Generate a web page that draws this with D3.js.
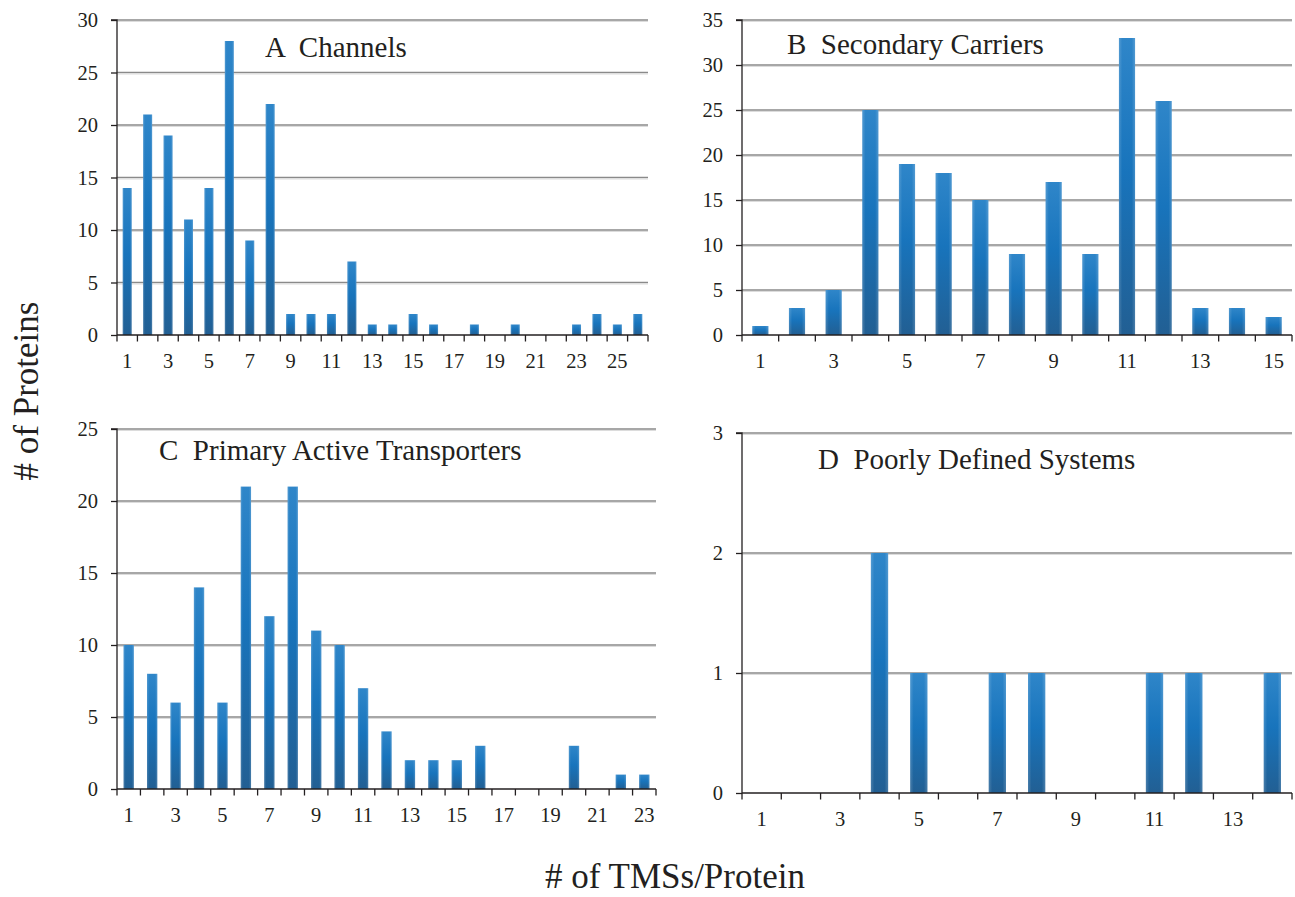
<!DOCTYPE html>
<html>
<head>
<meta charset="utf-8">
<script src="https://cdn.jsdelivr.net/npm/d3@7"></script>
<style>
  html, body { margin: 0; padding: 0; background: #fff; }
  svg { display: block; }
  text { font-family: "Liberation Serif", "Times New Roman", serif; fill: #231f20; white-space: pre; }
</style>
</head>
<body>
<svg id="chart" width="1295" height="897"></svg>
<script>
// ---- data ----
const channelsTms = d3.range(1, 27);
const channelsCounts = [14, 21, 19, 11, 14, 28, 9, 22, 2, 2, 2, 7, 1, 1, 2, 1, 0, 1, 0, 1, 0, 0, 1, 2, 1, 2];

const carriersTms = d3.range(1, 16);
const carriersCounts = [1, 3, 5, 25, 19, 18, 15, 9, 17, 9, 33, 26, 3, 3, 2];

const primaryTms = d3.range(1, 24);
const primaryCounts = [10, 8, 6, 14, 6, 21, 12, 21, 11, 10, 7, 4, 2, 2, 2, 3, 0, 0, 0, 3, 0, 1, 1];

const poorlyTms = d3.range(1, 15);
const poorlyCounts = [0, 0, 0, 2, 1, 0, 1, 1, 0, 0, 1, 1, 0, 1];

const panelTitles = ["A  Channels", "B  Secondary Carriers", "C  Primary Active Transporters", "D  Poorly Defined Systems"];
const yMaxes = [30, 35, 25, 3];
const yTickSteps = [5, 5, 5, 1];
const yAxisTitle = "# of Proteins";
const xAxisTitle = "# of TMSs/Protein";

// ---- layout ----
const svg = d3.select("#chart");
const defs = svg.append("defs");
const grad = defs.append("linearGradient").attr("id", "barGrad")
  .attr("x1", 0).attr("y1", 0).attr("x2", 0).attr("y2", 1);
grad.append("stop").attr("offset", "0%").attr("stop-color", "#2f86c9");
grad.append("stop").attr("offset", "45%").attr("stop-color", "#1874bc");
grad.append("stop").attr("offset", "100%").attr("stop-color", "#225f93");

const gradH = defs.append("linearGradient").attr("id", "barEdge")
  .attr("x1", 0).attr("y1", 0).attr("x2", 1).attr("y2", 0);
gradH.append("stop").attr("offset", "0%").attr("stop-color", "#ffffff").attr("stop-opacity", 0.18);
gradH.append("stop").attr("offset", "20%").attr("stop-color", "#ffffff").attr("stop-opacity", 0);
gradH.append("stop").attr("offset", "80%").attr("stop-color", "#ffffff").attr("stop-opacity", 0);
gradH.append("stop").attr("offset", "100%").attr("stop-color", "#ffffff").attr("stop-opacity", 0.18);

const panels = [
  { tms: channelsTms, counts: channelsCounts, title: panelTitles[0], yMax: yMaxes[0], step: yTickSteps[0],
    left: 117, right: 648, top: 20, bottom: 335, titleX: 265, titleY: 56.5 },
  { tms: carriersTms, counts: carriersCounts, title: panelTitles[1], yMax: yMaxes[1], step: yTickSteps[1],
    left: 742, right: 1292, top: 20, bottom: 335, titleX: 787, titleY: 53.5 },
  { tms: primaryTms, counts: primaryCounts, title: panelTitles[2], yMax: yMaxes[2], step: yTickSteps[2],
    left: 117, right: 656, top: 429, bottom: 789, titleX: 159, titleY: 460 },
  { tms: poorlyTms, counts: poorlyCounts, title: panelTitles[3], yMax: yMaxes[3], step: yTickSteps[3],
    left: 742, right: 1292, top: 433, bottom: 793, titleX: 818, titleY: 469 }
];

panels.forEach(p => {
  const g = svg.append("g");
  const x = d3.scaleBand().domain(p.tms).range([p.left, p.right]).paddingInner(0.56).paddingOuter(0.28);
  const xb = d3.scaleBand().domain(p.tms).range([p.left, p.right]);
  const y = d3.scaleLinear().domain([0, p.yMax]).range([p.bottom, p.top]);
  const yTicks = d3.range(0, p.yMax + 0.001, p.step);

  // gridlines
  g.append("g").selectAll("line").data(yTicks.filter(t => t > 0)).join("line")
    .attr("x1", p.left).attr("x2", p.right)
    .attr("y1", d => y(d)).attr("y2", d => y(d))
    .attr("stroke", "#8a8a8a").attr("stroke-width", 1.4);
  g.append("g").selectAll("line").data(yTicks.filter(t => t > 0)).join("line")
    .attr("x1", p.left).attr("x2", p.right)
    .attr("y1", d => y(d) + 1.5).attr("y2", d => y(d) + 1.5)
    .attr("stroke", "#dcdcdc").attr("stroke-width", 1);

  // bars
  const rows = p.tms.map((t, i) => ({ t, v: p.counts[i] })).filter(d => d.v > 0);
  const bars = g.append("g");
  bars.selectAll("rect.b").data(rows).join("rect")
    .attr("class", "b")
    .attr("x", d => x(d.t)).attr("width", x.bandwidth())
    .attr("y", d => y(d.v)).attr("height", d => y(0) - y(d.v))
    .attr("fill", "url(#barGrad)");
  bars.selectAll("rect.e").data(rows).join("rect")
    .attr("class", "e")
    .attr("x", d => x(d.t)).attr("width", x.bandwidth())
    .attr("y", d => y(d.v)).attr("height", d => y(0) - y(d.v))
    .attr("fill", "url(#barEdge)");

  // y axis
  const yAxis = d3.axisLeft(y).tickValues(yTicks).tickSize(6).tickPadding(13).tickFormat(d3.format("d"));
  const ya = g.append("g").attr("transform", `translate(${p.left},0)`).call(yAxis);
  ya.select(".domain").attr("stroke", "#231f20").attr("stroke-width", 1.3).attr("d", `M-6,${p.top}H0V${p.bottom}`);
  ya.selectAll(".tick line").attr("stroke", "#231f20").attr("stroke-width", 1.3);
  ya.selectAll(".tick text").attr("font-size", 20.5).attr("font-family", "Liberation Serif").attr("fill", "#231f20").attr("dy", "0.34em");

  // x axis: ticks at band boundaries, labels on odd categories
  const xa = g.append("g").attr("transform", `translate(0,${p.bottom})`);
  xa.append("line").attr("x1", p.left).attr("x2", p.right).attr("stroke", "#231f20").attr("stroke-width", 1.3);
  const bounds = p.tms.map(t => xb(t)).concat([p.right]);
  xa.selectAll("line.t").data(bounds).join("line").attr("class", "t")
    .attr("x1", d => d).attr("x2", d => d).attr("y1", 0).attr("y2", 6.5)
    .attr("stroke", "#231f20").attr("stroke-width", 1.3);
  xa.selectAll("text").data(p.tms.filter(t => t % 2 === 1)).join("text")
    .attr("x", d => xb(d) + xb.bandwidth() / 2).attr("y", 33)
    .attr("text-anchor", "middle").attr("font-size", 20.5).text(d => d);

  // panel title
  g.append("text").attr("x", p.titleX).attr("y", p.titleY).attr("font-size", 29).text(p.title);
});

// axis titles
svg.append("text").attr("transform", "translate(38,391) rotate(-90)")
  .attr("text-anchor", "middle").attr("font-size", 35).text(yAxisTitle);
svg.append("text").attr("x", 675).attr("y", 888)
  .attr("text-anchor", "middle").attr("font-size", 35).text(xAxisTitle);
</script>
</body>
</html>
